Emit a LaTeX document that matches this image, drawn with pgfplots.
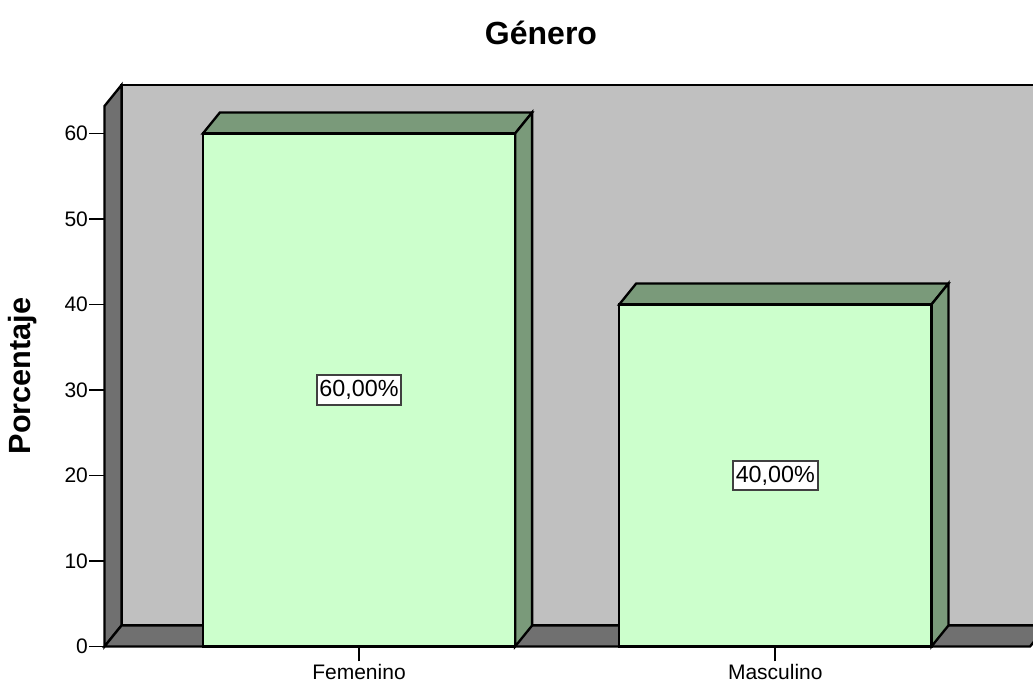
\documentclass[border=0pt]{standalone}
\usepackage{fontspec}
\setmainfont{Liberation Sans}
\usepackage{pgfplots}
\usepackage{pgfplotstable}
\pgfplotsset{compat=1.18}

\definecolor{wallback}{HTML}{C0C0C0}
\definecolor{walldark}{HTML}{707070}
\definecolor{barfront}{HTML}{CCFFCC}
\definecolor{barshade}{HTML}{7A9A7A}
\definecolor{labelframe}{HTML}{404040}

% Porcentaje por género
\pgfplotstableread{
x y
0 60
1 40
}\generotable

\begin{document}
\begin{tikzpicture}
\begin{axis}[
  at={(78.375pt,31.125pt)}, anchor=south west,
  scale only axis,
  width=696.4pt, height=421.1pt,
  xmin=-0.6113, xmax=1.6190,
  ymin=0, ymax=65.67,
  clip=false,
  axis lines*=left,
  axis line style={draw=none},
  tick align=outside,
  major tick length=11.25pt,
  tick style={black, line width=1.3pt},
  xtick={0,1}, xticklabels={Femenino,Masculino},
  ytick={0,10,20,30,40,50,60},
  /pgf/number format/assume math mode=true,
  ticklabel style={font=\fontsize{15.75}{18}\selectfont},
  yticklabel style={inner sep=1pt},
  xticklabel style={inner sep=2pt},
  title={Género},
  every axis title/.style={at={(axis description cs:0.4701,1.0730)}, anchor=base,
    font=\fontsize{24}{28}\selectfont\bfseries},
  ylabel={Porcentaje},
  every axis y label/.style={at={(axis description cs:-0.0878,0.4818)}, rotate=90,
    anchor=center, font=\fontsize{23}{27}\selectfont\bfseries},
  every axis plot/.append style={line width=1.75pt, line join=miter},
]
% back wall
\addplot[fill=wallback, draw=black] coordinates
  {(-0.5705,2.456) (1.6526,2.456) (1.6526,65.67) (-0.5705,65.67)} -- cycle;
% left wall
\addplot[fill=walldark, draw=black] coordinates
  {(-0.6113,0) (-0.6113,63.21) (-0.5705,65.67) (-0.5705,2.456)} -- cycle;
% floor
\addplot[fill=walldark, draw=black] coordinates
  {(-0.6113,0) (1.6118,0) (1.6526,2.456) (-0.5705,2.456)} -- cycle;

% bar tops and right-hand sides
\addplot[fill=barshade, draw=black] coordinates
  {(-0.375,60) (0.375,60) (0.4158,62.456) (-0.3342,62.456)} -- cycle;
\addplot[fill=barshade, draw=black] coordinates
  {(0.375,0) (0.4158,2.456) (0.4158,62.456) (0.375,60)} -- cycle;
\addplot[fill=barshade, draw=black] coordinates
  {(0.625,40) (1.375,40) (1.4158,42.456) (0.6658,42.456)} -- cycle;
\addplot[fill=barshade, draw=black] coordinates
  {(1.375,0) (1.4158,2.456) (1.4158,42.456) (1.375,40)} -- cycle;

% bar fronts
\addplot[ybar, bar width=0.75, fill=barfront, draw=black]
  table[x=x, y=y] {\generotable};

% value labels at mid-height of each bar
\addplot[draw=none, mark=none,
  point meta=explicit,
  nodes near coords={\pgfmathprintnumber[fixed,fixed zerofill,precision=2,use comma]{\pgfplotspointmeta}\%},
  every node near coord/.style={anchor=center, fill=white, draw=labelframe,
    line width=1.5pt, inner xsep=2pt, inner ysep=4pt, font=\fontsize{17.5}{20}\selectfont}]
  table[x=x, y expr=\thisrow{y}/2, meta=y] {\generotable};
\end{axis}
\pgfresetboundingbox
\path[use as bounding box] (0,0) rectangle (774.75pt,516pt);
\end{tikzpicture}
\end{document}
